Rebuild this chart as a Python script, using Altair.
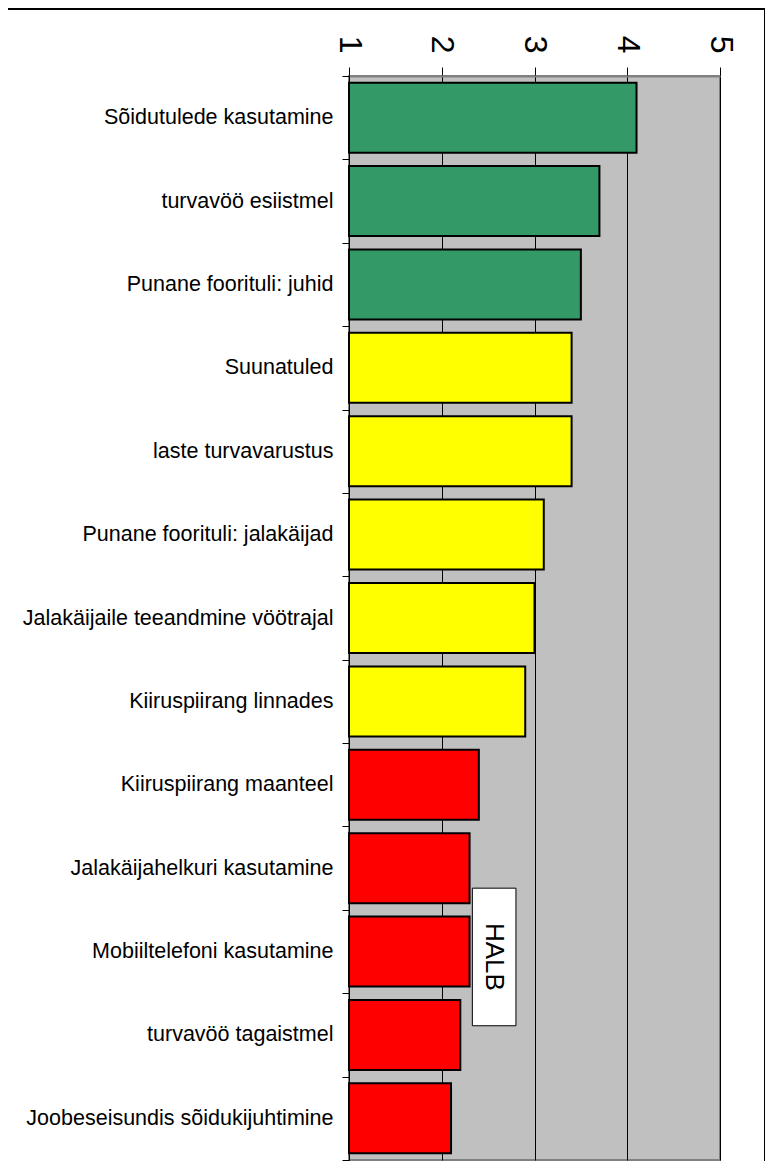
import altair as alt
import pandas as pd

categories = [
    "Sõidutulede kasutamine",
    "turvavöö esiistmel",
    "Punane foorituli: juhid",
    "Suunatuled",
    "laste turvavarustus",
    "Punane foorituli: jalakäijad",
    "Jalakäijaile teeandmine vöötrajal",
    "Kiiruspiirang linnades",
    "Kiiruspiirang maanteel",
    "Jalakäijahelkuri kasutamine",
    "Mobiiltelefoni kasutamine ",
    "turvavöö tagaistmel",
    "Joobeseisundis sõidukijuhtimine",
]
scores = [4.1, 3.7, 3.5, 3.4, 3.4, 3.1, 3.0, 2.9, 2.4, 2.3, 2.3, 2.2, 2.1]
bar_colors = ["#339966"] * 3 + ["#FFFF00"] * 5 + ["#FF0000"] * 5
x_ticks = [1, 2, 3, 4, 5]

note_text = ["HALB"]
note_x = [2.33, 2.80]
note_y = [9.74, 11.39]

df = pd.DataFrame({"kat": categories, "hinne": scores, "varv": bar_colors})
note = pd.DataFrame({
    "x1": [note_x[0]], "x2": [note_x[1]],
    "y1": [note_y[0]], "y2": [note_y[1]],
    "xm": [sum(note_x) / 2], "ym": [sum(note_y) / 2],
    "t": note_text,
})

xscale = alt.Scale(domain=[1, 5], nice=False, zero=False)
yq = alt.Scale(domain=[0, 13], reverse=True, nice=False, zero=False)

bars = alt.Chart(df).mark_bar(size=70, stroke="black", strokeWidth=2).encode(
    y=alt.Y("kat:N", sort=None, title=None,
            scale=alt.Scale(paddingInner=0, paddingOuter=0),
            axis=alt.Axis(tickBand="extent", labelFontSize=21.5, labelFont="Liberation Sans",
                          labelColor="black", labelPadding=9, tickSize=7, tickColor="black",
                          domainColor="black", grid=False, labelLimit=400)),
    x=alt.X("hinne:Q", scale=xscale, title=None,
            axis=alt.Axis(orient="top", values=x_ticks, format="d", grid=True, gridColor="black",
                          gridWidth=1, gridOpacity=1, tickColor="black", tickSize=9,
                          labelAngle=90, labelAlign="right", labelBaseline="middle",
                          labelFontSize=32, labelFont="Liberation Sans", labelColor="black",
                          labelPadding=14, domainColor="#808080", domainWidth=2)),
    x2=alt.datum(1),
    color=alt.Color("varv:N", scale=None, legend=None),
)

box = alt.Chart(note).mark_rect(fill="white", stroke="black", strokeWidth=1).encode(
    x=alt.X("x1:Q", scale=xscale, title=None),
    x2="x2:Q",
    y=alt.Y("y1:Q", scale=yq, axis=None),
    y2="y2:Q",
)

label = alt.Chart(note).mark_text(angle=90, fontSize=26, font="Liberation Sans",
                                  align="center", baseline="middle", color="black").encode(
    x=alt.X("xm:Q", scale=xscale, title=None),
    y=alt.Y("ym:Q", scale=yq, axis=None),
    text="t:N",
)

frame_top = alt.Chart(pd.DataFrame({"a": [0]})).mark_rule(color="black", strokeWidth=2).encode(
    x=alt.value(-341), x2=alt.value(417), y=alt.value(-67))
frame_right = alt.Chart(pd.DataFrame({"a": [0]})).mark_rule(color="black", strokeWidth=2).encode(
    x=alt.value(416), y=alt.value(-68), y2=alt.value(1100))

chart = alt.layer(bars, box, label, frame_top, frame_right).resolve_scale(
    y="independent"
).properties(
    width=371, height=1084,
    autosize=alt.AutoSizeParams(type="none"),
    padding={"left": 341, "top": 68, "right": 45, "bottom": 1},
).configure_view(
    fill="#C0C0C0", stroke="#808080", strokeWidth=2
)

chart.save("out.html", embed_options={"renderer": "svg", "actions": False})
